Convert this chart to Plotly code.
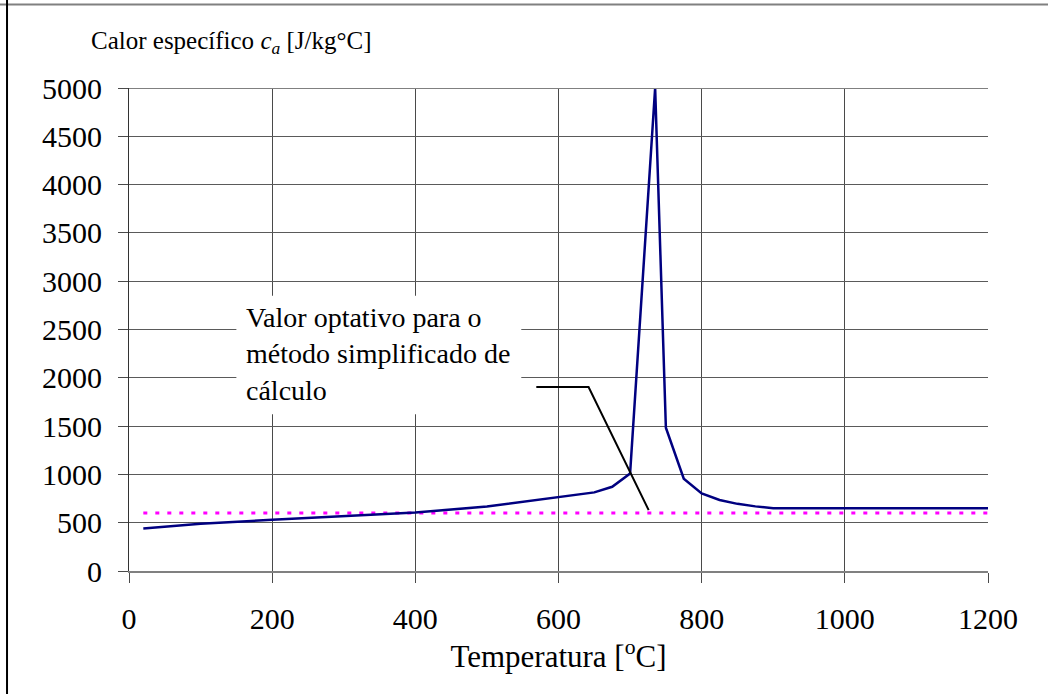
import plotly.graph_objects as go

# Data
temperature = [20, 100, 200, 300, 400, 500, 600, 650, 675, 700, 735, 750, 775, 800,
               825, 850, 875, 900, 1000, 1100, 1200]
specific_heat = [440, 488, 530, 565, 606, 667, 760, 814, 872, 1008, 5000, 1483, 955, 803,
                 735, 695, 669, 650, 650, 650, 650]

optional_x = [20, 1200]
optional_value = [600, 600]

x_ticks = [0, 200, 400, 600, 800, 1000, 1200]
y_ticks = [0, 500, 1000, 1500, 2000, 2500, 3000, 3500, 4000, 4500, 5000]

note_text = "Valor optativo para o<br>método simplificado de<br>cálculo"
leader_x = [569, 642, 726]
leader_y = [1905, 1905, 630]
note_box_x = [150, 548]
note_box_y = [1623, 2850]

SERIF = "Liberation Serif"

fig = go.Figure()

fig.add_trace(go.Scatter(
    x=optional_x, y=optional_value, mode="lines",
    line=dict(color="#FF00FF", width=3, dash="4px,8px"),
    hoverinfo="skip", showlegend=False))

fig.add_trace(go.Scatter(
    x=temperature, y=specific_heat, mode="lines",
    line=dict(color="#000080", width=2.5),
    showlegend=False))

fig.add_trace(go.Scatter(
    x=leader_x, y=leader_y, mode="lines",
    line=dict(color="black", width=2),
    hoverinfo="skip", showlegend=False))

shapes = [
    dict(type="rect", xref="x", yref="y",
         x0=note_box_x[0], x1=note_box_x[1], y0=note_box_y[0], y1=note_box_y[1],
         fillcolor="white", line=dict(width=0), layer="between"),
    # top border of the plot area
    dict(type="line", xref="paper", yref="y", x0=0, x1=1, y0=5000, y1=5000,
         line=dict(color="#808080", width=2), layer="above"),
    # figure frame: top and left
    dict(type="line", xref="paper", yref="paper", x0=-0.2, x1=1.2, y0=1.173, y1=1.173,
         line=dict(color="#808080", width=2)),
    dict(type="line", xref="paper", yref="paper", x0=-0.142, x1=-0.142, y0=-0.3, y1=1.2,
         line=dict(color="black", width=2)),
]

fig.update_layout(
    width=1048, height=694,
    margin=dict(l=129, r=60, t=88, b=123),
    paper_bgcolor="white", plot_bgcolor="white",
    font=dict(family=SERIF, color="black"),
    shapes=shapes,
    xaxis=dict(
        range=[0, 1200], tickvals=x_ticks, ticktext=[str(v) for v in x_ticks],
        showgrid=True, gridcolor="#4a4a4a", gridwidth=1,
        showline=True, linecolor="#808080", linewidth=2,
        ticks="outside", ticklen=10, tickcolor="#4a4a4a",
        tickfont=dict(size=30, family=SERIF, color="black"),
        ticklabelstandoff=10,
        zeroline=False,
        title=dict(text="Temperatura [<sup>o</sup>C]",
                   font=dict(size=31, family=SERIF, color="black"), standoff=8),
    ),
    yaxis=dict(
        range=[0, 5000], tickvals=y_ticks, ticktext=[str(v) for v in y_ticks],
        showgrid=True, gridcolor="#5a5a5a", gridwidth=1,
        showline=True, linecolor="#333333", linewidth=1,
        ticks="outside", ticklen=10, tickcolor="#4a4a4a",
        tickfont=dict(size=30, family=SERIF, color="black"),
        ticklabelstandoff=10,
        zeroline=False,
    ),
    annotations=[
        dict(text="Calor específico <i>c<sub>a</sub></i> [J/kg°C]",
             xref="paper", yref="paper", x=-0.046, y=1.095,
             xanchor="left", yanchor="middle", showarrow=False,
             font=dict(size=25, family=SERIF, color="black")),
        dict(text=note_text, xref="x", yref="y", x=160, y=2246,
             xanchor="left", yanchor="middle", align="left", showarrow=False,
             font=dict(size=28, family=SERIF, color="black")),
    ],
)

fig.write_html("out.html", config={"displayModeBar": False},
               post_script="document.body.style.margin='0px';")
